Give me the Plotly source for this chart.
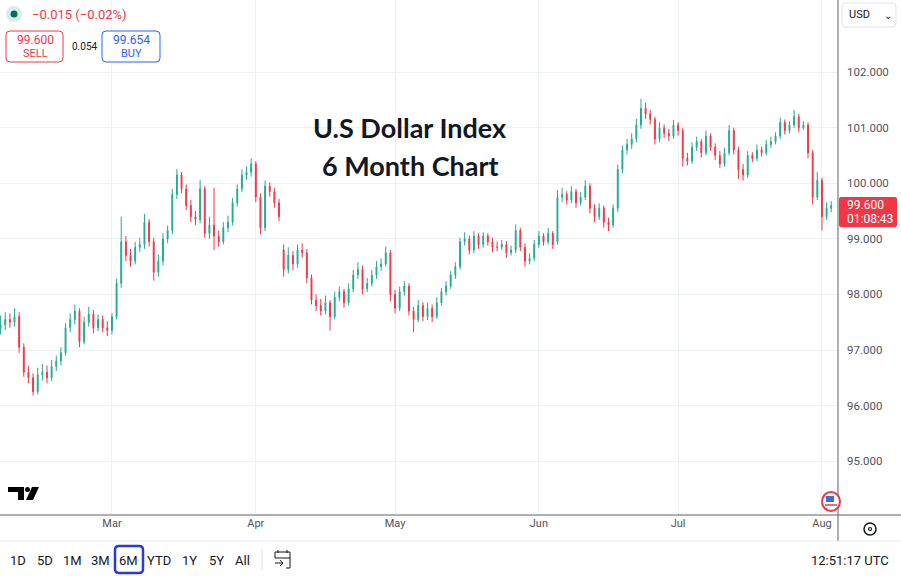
import pandas as pd
import plotly.graph_objects as go

# daily candles, 5 Feb - 2 Aug
start_day = "2025-02-05"

open_ = [
    97.40, 97.45, 97.55, 97.50, 97.60, 97.05, 96.60, 96.50, 96.25, 96.55,
    96.60, 96.50, 96.70, 96.80, 96.95, 97.40, 97.55, 97.70, 97.15, 97.50,
    97.65, 97.40, 97.55, 97.40, 97.35, 97.60, 98.20, 98.95, 98.70, 98.60,
    98.85, 98.90, 99.30, 98.95, 98.40, 98.60, 99.00, 99.15, 99.80, 100.15,
    99.90, 99.60, 99.40, 99.35, 99.90, 99.10, 99.25, 99.05, 98.95, 99.20,
    99.30, 99.65, 99.90, 100.15, 100.20, 100.35, 99.75, 99.20, 99.95, 99.85,
    99.65, 98.80, 98.45, 98.70, 98.55, 98.80, 98.75, 98.30, 97.90, 97.80,
    97.70, 97.85, 97.60, 97.95, 98.05, 97.85, 98.10, 98.35, 98.45, 98.10,
    98.20, 98.35, 98.50, 98.55, 98.75, 98.00, 97.75, 98.05, 98.15, 97.70,
    97.55, 97.80, 97.60, 97.75, 97.60, 97.85, 98.05, 98.15, 98.35, 98.50,
    98.95, 99.00, 98.80, 99.05, 98.90, 99.05, 98.95, 98.85, 98.85, 98.90,
    98.75, 98.80, 99.15, 98.85, 98.60, 98.65, 98.90, 99.05, 98.95, 99.10,
    98.95, 99.75, 99.80, 99.70, 99.85, 99.65, 99.75, 99.95, 99.55, 99.40,
    99.55, 99.30, 99.25, 99.55, 100.25, 100.60, 100.70, 100.80, 101.05, 101.35,
    101.25, 101.15, 100.80, 101.00, 100.90, 100.85, 101.05, 100.95, 100.45, 100.40,
    100.65, 100.75, 100.55, 100.85, 100.65, 100.50, 100.35, 100.55, 100.95, 100.60,
    100.25, 100.15, 100.50, 100.45, 100.60, 100.55, 100.70, 100.75, 100.85, 101.10,
    100.95, 101.05, 101.20, 101.00, 101.05, 100.55, 99.75, 100.05, 99.40, 99.55,
]
high = [
    97.62, 97.68, 97.66, 97.75, 97.68, 97.12, 96.72, 96.58, 96.68, 96.75,
    96.72, 96.82, 96.90, 97.05, 97.48, 97.66, 97.82, 97.75, 97.60, 97.78,
    97.72, 97.64, 97.62, 97.52, 97.66, 98.28, 99.40, 99.05, 98.82, 98.95,
    99.02, 99.45, 99.36, 99.02, 98.72, 99.10, 99.24, 99.90, 100.26, 100.20,
    99.98, 99.70, 99.50, 100.06, 99.95, 99.40, 99.92, 99.15, 99.30, 99.42,
    99.74, 99.98, 100.25, 100.30, 100.45, 100.40, 99.82, 100.05, 100.02, 99.92,
    99.72, 98.90, 98.85, 98.78, 98.90, 98.92, 98.82, 98.36, 98.00, 97.92,
    97.98, 97.90, 98.05, 98.14, 98.10, 98.20, 98.44, 98.58, 98.52, 98.30,
    98.44, 98.60, 98.65, 98.86, 98.80, 98.08, 98.14, 98.24, 98.20, 97.78,
    97.90, 97.86, 97.85, 97.82, 97.95, 98.12, 98.24, 98.42, 98.58, 99.02,
    99.12, 99.06, 99.14, 99.10, 99.12, 99.10, 99.02, 98.95, 98.98, 98.96,
    98.88, 99.26, 99.20, 98.92, 98.74, 98.98, 99.14, 99.10, 99.20, 99.14,
    99.88, 99.92, 99.86, 99.95, 99.90, 99.84, 100.06, 100.00, 99.62, 99.64,
    99.60, 99.38, 99.62, 100.34, 100.68, 100.80, 100.90, 101.16, 101.52, 101.45,
    101.32, 101.20, 101.10, 101.06, 100.98, 101.14, 101.10, 101.00, 100.55, 100.74,
    100.84, 100.80, 100.95, 100.90, 100.72, 100.58, 100.64, 101.05, 101.00, 100.66,
    100.35, 100.58, 100.56, 100.70, 100.66, 100.78, 100.84, 100.92, 101.18, 101.15,
    101.12, 101.32, 101.25, 101.12, 101.10, 100.60, 100.20, 100.10, 99.66, 99.68,
]
low = [
    97.28, 97.36, 97.40, 97.42, 96.95, 96.52, 96.40, 96.18, 96.20, 96.45,
    96.40, 96.44, 96.62, 96.72, 96.90, 97.32, 97.46, 97.05, 97.10, 97.42,
    97.30, 97.34, 97.32, 97.25, 97.28, 97.55, 98.12, 98.60, 98.50, 98.54,
    98.76, 98.82, 98.86, 98.25, 98.32, 98.52, 98.92, 99.08, 99.72, 99.82,
    99.52, 99.30, 99.25, 99.28, 99.02, 99.00, 98.80, 98.86, 98.90, 99.12,
    99.24, 99.58, 99.84, 100.06, 100.12, 99.66, 99.08, 99.14, 99.76, 99.56,
    99.32, 98.32, 98.38, 98.44, 98.48, 98.66, 98.20, 97.82, 97.70, 97.62,
    97.64, 97.35, 97.55, 97.88, 97.76, 97.80, 98.04, 98.28, 98.00, 98.04,
    98.14, 98.28, 98.42, 98.50, 97.88, 97.66, 97.70, 97.98, 97.62, 97.32,
    97.50, 97.52, 97.54, 97.50, 97.56, 97.80, 97.98, 98.10, 98.28, 98.45,
    98.88, 98.72, 98.74, 98.82, 98.84, 98.88, 98.76, 98.78, 98.80, 98.66,
    98.70, 98.74, 98.78, 98.50, 98.54, 98.60, 98.84, 98.88, 98.90, 98.82,
    98.90, 99.66, 99.62, 99.64, 99.56, 99.60, 99.70, 99.46, 99.30, 99.34,
    99.20, 99.14, 99.20, 99.48, 100.18, 100.52, 100.62, 100.74, 100.98, 101.16,
    101.06, 100.70, 100.74, 100.82, 100.76, 100.80, 100.86, 100.30, 100.32, 100.35,
    100.58, 100.46, 100.50, 100.58, 100.42, 100.28, 100.30, 100.50, 100.52, 100.08,
    100.05, 100.10, 100.38, 100.40, 100.48, 100.50, 100.64, 100.70, 100.80, 100.88,
    100.90, 101.00, 100.92, 100.96, 100.45, 99.62, 99.70, 99.15, 99.34, 99.48,
]
close = [
    97.45, 97.55, 97.50, 97.60, 97.05, 96.60, 96.50, 96.25, 96.55, 96.60,
    96.50, 96.70, 96.80, 96.95, 97.40, 97.55, 97.70, 97.15, 97.50, 97.65,
    97.40, 97.55, 97.40, 97.35, 97.60, 98.20, 98.95, 98.70, 98.60, 98.85,
    98.90, 99.30, 98.95, 98.40, 98.60, 99.00, 99.15, 99.80, 100.15, 99.90,
    99.60, 99.40, 99.35, 99.90, 99.10, 99.25, 99.05, 98.95, 99.20, 99.30,
    99.65, 99.90, 100.15, 100.20, 100.35, 99.75, 99.20, 99.95, 99.85, 99.65,
    99.40, 98.45, 98.70, 98.55, 98.80, 98.75, 98.30, 97.90, 97.80, 97.70,
    97.85, 97.60, 97.95, 98.05, 97.85, 98.10, 98.35, 98.45, 98.10, 98.20,
    98.35, 98.50, 98.55, 98.75, 98.00, 97.75, 98.05, 98.15, 97.70, 97.55,
    97.80, 97.60, 97.75, 97.60, 97.85, 98.05, 98.15, 98.35, 98.50, 98.95,
    99.00, 98.80, 99.05, 98.90, 99.05, 98.95, 98.85, 98.85, 98.90, 98.75,
    98.80, 99.15, 98.85, 98.60, 98.65, 98.90, 99.05, 98.95, 99.10, 98.90,
    99.75, 99.80, 99.70, 99.85, 99.65, 99.75, 99.95, 99.55, 99.40, 99.55,
    99.30, 99.25, 99.55, 100.25, 100.60, 100.70, 100.80, 101.05, 101.35, 101.25,
    101.15, 100.80, 101.00, 100.90, 100.85, 101.05, 100.95, 100.45, 100.40, 100.65,
    100.75, 100.55, 100.85, 100.65, 100.50, 100.35, 100.55, 100.95, 100.60, 100.25,
    100.15, 100.50, 100.45, 100.60, 100.55, 100.70, 100.75, 100.85, 101.10, 100.95,
    101.05, 101.20, 101.00, 101.05, 100.55, 99.75, 100.05, 99.40, 99.55, 99.60,
]

price_ticks = [95, 96, 97, 98, 99, 100, 101, 102]
range_buttons = ["1D", "5D", "1M", "3M", "6M", "YTD", "1Y", "5Y", "All"]
button_x = [18, 45, 72, 100, 128, 159, 189, 216, 242]

last_price = "99.600"
countdown = "01:08:43"
change_text = "\u22120.015 (\u22120.02%)"
sell_price, buy_price, spread = "99.600", "99.654", "0.054"
clock = "12:51:17 UTC"

GREEN = "#22ab94"
RED = "#f23645"
BLUE = "#2962ff"
TXT = "#131722"
GRID = "#eef1f6"
AXIS = "#5d606b"

# plot area in pixels (margin l=0, t=0)
PW, PH = 838, 515


def px(x):
    return x / PW


def py(y):
    return 1 - y / PH


def rrect(x0, y0, x1, y1, r=4):
    # rounded rectangle path in paper coords
    a, b, c, d = px(x0), py(y0), px(x1), py(y1)
    rx, ry = r / PW, r / PH
    return (f"M{a+rx},{b} L{c-rx},{b} Q{c},{b} {c},{b-ry} L{c},{d+ry} "
            f"Q{c},{d} {c-rx},{d} L{a+rx},{d} Q{a},{d} {a},{d+ry} "
            f"L{a},{b-ry} Q{a},{b} {a+rx},{b} Z")


dates = pd.date_range(start_day, periods=len(close), freq="D")

fig = go.Figure()
fig.add_trace(go.Candlestick(
    x=dates, open=open_, high=high, low=low, close=close,
    increasing=dict(line=dict(color=GREEN, width=1), fillcolor=GREEN),
    decreasing=dict(line=dict(color=RED, width=1), fillcolor=RED),
    whiskerwidth=0, showlegend=False, hoverinfo="skip",
))

shapes = []
annotations = []


def text(x, y, s, size=12, color=TXT, anchor="center", bold=False, family="Roboto"):
    annotations.append(dict(
        x=px(x), y=py(y), xref="paper", yref="paper", text=f"<b>{s}</b>" if bold else s,
        showarrow=False, xanchor=anchor, yanchor="middle",
        font=dict(size=size, color=color, family=family),
    ))


def line(x0, y0, x1, y1, color, width=1):
    shapes.append(dict(type="line", xref="paper", yref="paper",
                       x0=px(x0), y0=py(y0), x1=px(x1), y1=py(y1),
                       line=dict(color=color, width=width)))


# title
text(410, 128, "U.S Dollar Index", size=27, bold=True, family="Lato")
text(410, 165, "6 Month Chart", size=27, bold=True, family="Lato")

# top-left status
shapes.append(dict(type="circle", xref="paper", yref="paper", x0=px(6), y0=py(6), x1=px(22), y1=py(22),
                   fillcolor="#d4efe8", line=dict(width=0)))
shapes.append(dict(type="circle", xref="paper", yref="paper", x0=px(10.5), y0=py(10.5), x1=px(17.5), y1=py(17.5),
                   fillcolor="#0b6b57", line=dict(width=0)))
text(30, 14, change_text, size=13, color=RED, anchor="left")
shapes.append(dict(type="path", xref="paper", yref="paper", path=rrect(6, 31, 63, 62),
                   line=dict(color=RED, width=1), fillcolor="white"))
shapes.append(dict(type="path", xref="paper", yref="paper", path=rrect(102, 31, 160, 62),
                   line=dict(color=BLUE, width=1), fillcolor="white"))
text(35, 40, sell_price, size=12, color=RED)
text(35, 53, "SELL", size=11, color=RED)
text(84, 46, spread, size=10)
text(131, 40, buy_price, size=12, color=BLUE)
text(131, 53, "BUY", size=11, color=BLUE)

# currency selector
shapes.append(dict(type="path", xref="paper", yref="paper", path=rrect(842, 3, 896, 27),
                   line=dict(color="#e0e3eb", width=1), fillcolor="white"))
text(847, 15, "USD", size=11, anchor="left")
text(888, 16, "\u2304", size=10)

# last price label
shapes.append(dict(type="path", xref="paper", yref="paper", path=rrect(839, 197, 897, 227, 2),
                   line=dict(width=0), fillcolor=RED))
text(845, 205, last_price, size=12, color="white", anchor="left")
text(845, 219, countdown, size=12, color="white", anchor="left")

# frame lines
line(0, 515, 901, 515, AXIS)
line(838, 0, 838, 541, AXIS)
line(0, 541, 901, 541, "#e6e8ee")

# TradingView logo
shapes.append(dict(type="path", xref="paper", yref="paper",
                   path=f"M{px(8)},{py(487)} L{px(24)},{py(487)} L{px(24)},{py(500)} L{px(18)},{py(500)} "
                        f"L{px(18)},{py(492)} L{px(8)},{py(492)} Z",
                   fillcolor="#000", line=dict(width=0)))
shapes.append(dict(type="circle", xref="paper", yref="paper", x0=px(25), y0=py(487), x1=px(30), y1=py(492),
                   fillcolor="#000", line=dict(width=0)))
shapes.append(dict(type="path", xref="paper", yref="paper",
                   path=f"M{px(32)},{py(487)} L{px(39)},{py(487)} L{px(33)},{py(500)} L{px(26)},{py(500)} Z",
                   fillcolor="#000", line=dict(width=0)))

# flag badge
shapes.append(dict(type="circle", xref="paper", yref="paper", x0=px(822), y0=py(492), x1=px(840), y1=py(511),
                   fillcolor="white", line=dict(color=RED, width=2)))
shapes.append(dict(type="rect", xref="paper", yref="paper", x0=px(826), y0=py(496), x1=px(834), y1=py(502),
                   fillcolor="#3d6fd8", line=dict(width=0)))
line(825, 505, 837, 505, RED, 1.5)

# settings icon
shapes.append(dict(type="circle", xref="paper", yref="paper", x0=px(864), y0=py(523), x1=px(876), y1=py(535),
                   line=dict(color=TXT, width=1.5)))
shapes.append(dict(type="circle", xref="paper", yref="paper", x0=px(868.5), y0=py(527.5), x1=px(871.5), y1=py(530.5),
                   line=dict(color=TXT, width=1.2)))

# bottom toolbar
for label, bx in zip(range_buttons, button_x):
    text(bx, 560, label, size=13)
shapes.append(dict(type="path", xref="paper", yref="paper", path=rrect(115, 546, 143, 573, 4),
                   line=dict(color="#2d3ad0", width=2.5)))
line(262, 550, 262, 570, "#e0e3eb")
# date-range icon
shapes.append(dict(type="rect", xref="paper", yref="paper", x0=px(275), y0=py(552), x1=px(290), y1=py(558),
                   line=dict(color=TXT, width=1)))
line(278, 550, 278, 553, TXT)
line(287, 550, 287, 553, TXT)
line(275, 563, 283, 563, TXT)
line(280, 560, 283, 563, TXT)
line(280, 566, 283, 563, TXT)
line(290, 558, 290, 568, TXT)
line(286, 568, 290, 568, TXT)
text(891, 560, clock, size=13, anchor="right")

fig.update_layout(
    width=901, height=576,
    margin=dict(l=0, r=901 - PW, t=0, b=576 - PH),
    paper_bgcolor="white", plot_bgcolor="white",
    shapes=shapes, annotations=annotations,
    font=dict(family="Roboto", color=TXT),
    boxgap=0.72,
    xaxis=dict(
        type="date", rangeslider=dict(visible=False),
        range=["2025-02-04 21:00", "2025-08-04 11:00"],
        dtick="M1", tick0="2025-03-01", tickformat="%b",
        showgrid=True, gridcolor=GRID, gridwidth=1,
        tickfont=dict(size=11, color="#50535e"), ticks="", zeroline=False,
        showline=False,
    ),
    yaxis=dict(
        side="right", range=[94.03, 103.3],
        tickvals=price_ticks, ticktext=[f"{v:.3f}" for v in price_ticks],
        showgrid=True, gridcolor=GRID, gridwidth=1,
        tickfont=dict(size=11.5, color="#50535e"), ticks="", zeroline=False,
        showline=False, ticklabelstandoff=8,
    ),
)

fig.write_html("out.html", config={"displayModeBar": False},
               post_script="document.body.style.margin='0';")
